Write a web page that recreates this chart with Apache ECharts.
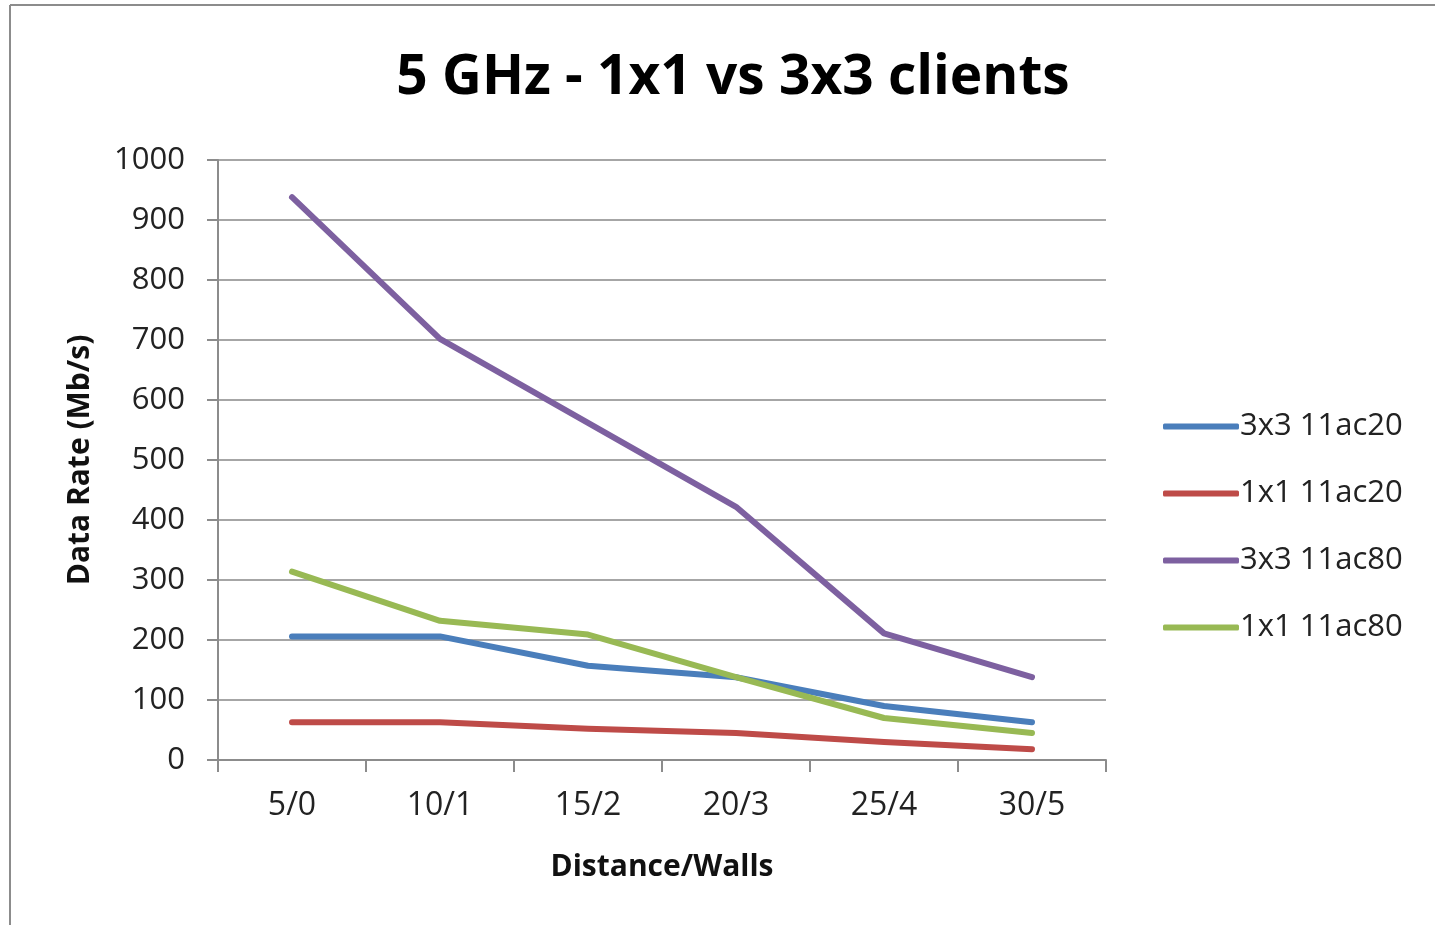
<!DOCTYPE html>
<html>
<head>
<meta charset="utf-8">
<style>
  html, body { margin: 0; padding: 0; background: #fff; }
  #chart { width: 1435px; height: 925px; }
</style>
<script src="https://cdn.jsdelivr.net/npm/echarts@6/dist/echarts.min.js"></script>
</head>
<body>
<div id="chart"></div>
<script>
// Distance (m) / number of walls between client and AP
const categories = ['5/0', '10/1', '15/2', '20/3', '25/4', '30/5'];

// Measured data rates in Mb/s
const rate3x3ac20 = [206, 206, 157, 138, 90, 63];
const rate1x1ac20 = [63, 63, 52, 45, 30, 18];
const rate3x3ac80 = [938, 702, 562, 422, 211, 138];
const rate1x1ac80 = [314, 232, 209, 138, 70, 45];

const seriesNames = ['3x3 11ac20', '1x1 11ac20', '3x3 11ac80', '1x1 11ac80'];
const seriesColors = ['#4a7ebb', '#be4b48', '#7d60a0', '#98b954'];
const seriesData = [rate3x3ac20, rate1x1ac20, rate3x3ac80, rate1x1ac80];

const FONT = "'Open Sans', 'Noto Sans', sans-serif";

const chart = echarts.init(document.getElementById('chart'), null, { renderer: 'canvas' });

chart.setOption({
  backgroundColor: '#ffffff',
  animation: false,
  title: {
    text: '5 GHz - 1x1 vs 3x3 clients',
    left: 728,
    top: 46,
    textAlign: 'center',
    textStyle: { fontFamily: FONT, fontSize: 55, fontWeight: 'bold', color: '#000' }
  },
  graphic: [
    { type: 'line', shape: { x1: 10, y1: 5, x2: 1435, y2: 5 }, style: { stroke: '#8c8c8c', lineWidth: 2 } },
    { type: 'line', shape: { x1: 10, y1: 5, x2: 10, y2: 925 }, style: { stroke: '#8c8c8c', lineWidth: 2 } }
  ],
  legend: {
    orient: 'vertical',
    left: 1158,
    top: 406,
    itemWidth: 76,
    itemHeight: 6,
    itemGap: 36,
    icon: 'roundRect',
    data: seriesNames,
    textStyle: { fontFamily: FONT, fontSize: 31, color: '#222', padding: [0, 0, 0, -4] }
  },
  grid: { left: 218, top: 160, width: 888, height: 600, containLabel: false },
  xAxis: {
    type: 'category',
    data: categories,
    boundaryGap: true,
    name: 'Distance/Walls',
    nameLocation: 'middle',
    nameGap: 92,
    nameTextStyle: { fontFamily: FONT, fontSize: 30, fontWeight: 'bold', color: '#111' },
    axisLine: { lineStyle: { color: '#8c8c8c', width: 2 } },
    axisTick: { show: true, length: 12, alignWithLabel: false, lineStyle: { color: '#8c8c8c', width: 2 } },
    axisLabel: { fontFamily: FONT, fontSize: 32, color: '#222', margin: 30 },
    splitLine: { show: false }
  },
  yAxis: {
    type: 'value',
    min: 0,
    max: 1000,
    interval: 100,
    name: 'Data Rate (Mb/s)',
    nameLocation: 'middle',
    nameGap: 123,
    nameRotate: 90,
    nameTextStyle: { fontFamily: FONT, fontSize: 30, fontWeight: 'bold', color: '#111' },
    axisLine: { show: true, lineStyle: { color: '#8c8c8c', width: 2 } },
    axisTick: { show: true, length: 11, lineStyle: { color: '#8c8c8c', width: 2 } },
    axisLabel: { fontFamily: FONT, fontSize: 31, color: '#222', margin: 33, formatter: v => String(v) },
    splitLine: { show: true, lineStyle: { color: '#a6a6a6', width: 2 } }
  },
  series: seriesNames.map((name, i) => ({
    name: name,
    type: 'line',
    data: seriesData[i],
    showSymbol: false,
    symbol: 'none',
    color: seriesColors[i],
    lineStyle: { width: 6, color: seriesColors[i], cap: 'round', join: 'round' }
  }))
});
</script>
</body>
</html>
